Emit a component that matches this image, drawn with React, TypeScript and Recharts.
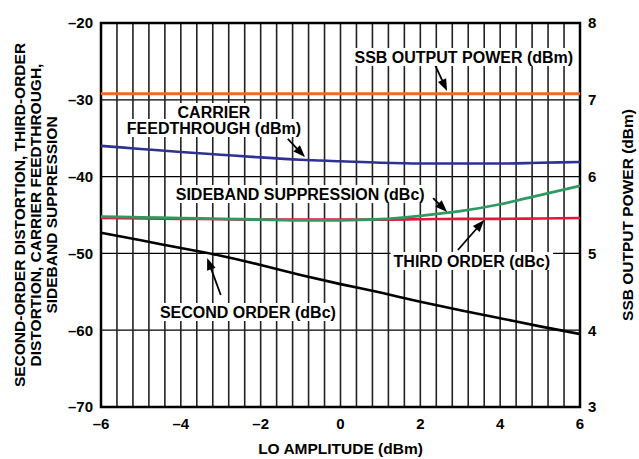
import React from 'react';
import {
  ComposedChart,
  Line,
  XAxis,
  YAxis,
  CartesianGrid,
  ReferenceDot,
  ReferenceLine,
  ReferenceArea,
} from 'recharts';

// ---- data ----
const loAmplitude = [-6, -5, -4, -3, -2, -1, 0, 1, 2, 3, 4, 5, 6];
const ssbOutputPower = [7.08, 7.08, 7.08, 7.08, 7.08, 7.08, 7.08, 7.08, 7.08, 7.08, 7.08, 7.08, 7.08];
const carrierFeedthrough = [-36.0, -36.4, -36.8, -37.15, -37.5, -37.8, -38.0, -38.2, -38.3, -38.3, -38.3, -38.2, -38.1];
const sidebandSuppression = [-45.2, -45.3, -45.4, -45.5, -45.6, -45.7, -45.7, -45.55, -45.1, -44.5, -43.6, -42.4, -41.2];
const thirdOrder = [-45.4, -45.45, -45.5, -45.55, -45.6, -45.6, -45.6, -45.6, -45.55, -45.5, -45.5, -45.45, -45.4];
const secondOrder = [-47.3, -48.3, -49.3, -50.3, -51.5, -52.8, -54.0, -55.1, -56.3, -57.4, -58.45, -59.5, -60.5];

const xTickLabels = [-6, -4, -2, 0, 2, 4, 6];
const leftTicks = [-70, -60, -50, -40, -30, -20];
const rightTicks = [3, 4, 5, 6, 7, 8];

const annotationLines = [
  ['SSB OUTPUT POWER (dBm)'],
  ['CARRIER', 'FEEDTHROUGH (dBm)'],
  ['SIDEBAND SUPPRESSION (dBc)'],
  ['THIRD ORDER (dBc)'],
  ['SECOND ORDER (dBc)'],
];
const annotationX = [3.09, -3.17, -1.01, 3.29, -2.32];
const annotationY = [-24.43, -32.63, -42.27, -50.99, -57.63];
const arrowTailX = [2.37, -1.32, 2.32, 2.94, -3.0];
const arrowTailY = [-25.47, -35.1, -42.79, -49.56, -55.42];
const arrowHeadX = [2.67, -0.89, 2.67, 3.6, -3.34];
const arrowHeadY = [-28.85, -37.45, -44.61, -45.65, -50.6];

// vertical grid every 0.4 dBm
const gridX = Array.from({ length: 31 }, (_, i) => Math.round((-6 + i * 0.4) * 10) / 10);

const data = loAmplitude.map((x, i) => ({
  x,
  ssb: ssbOutputPower[i],
  carrier: carrierFeedthrough[i],
  sideband: sidebandSuppression[i],
  third: thirdOrder[i],
  second: secondOrder[i],
}));

const FONT = '"Liberation Sans", Arial, Helvetica, sans-serif';
const ANN_SIZE = 16;
const TITLE_SIZE = 15.5;
const TICK_SIZE = 15;

let measureCtx: CanvasRenderingContext2D | null = null;
function textWidth(s: string, size: number): number {
  if (!measureCtx) measureCtx = document.createElement('canvas').getContext('2d');
  if (!measureCtx) return s.length * size * 0.66;
  measureCtx.font = `bold ${size}px "Liberation Sans", Arial, sans-serif`;
  return measureCtx.measureText(s).width;
}

const fmt = (v: number) => (v < 0 ? '\u2013' + Math.abs(v) : String(v));

function AnnotationBox(props: any) {
  const { cx, cy, lines } = props;
  const size = ANN_SIZE;
  const lh = 16;
  return (
    <g>
      {lines.map((t: string, i: number) => {
        const w = textWidth(t, size) + 6;
        const y = cy + (i - (lines.length - 1) / 2) * lh;
        return (
          <g key={i}>
            <rect x={cx - w / 2} y={y - 9} width={w} height={18} fill="#fff" />
            <text
              x={cx}
              y={y}
              dy="0.36em"
              textAnchor="middle"
              fontFamily={FONT}
              fontWeight="bold"
              fontSize={size}
              fill="#000"
            >
              {t}
            </text>
          </g>
        );
      })}
    </g>
  );
}

function ArrowShape(props: any) {
  const { x1, y1, x2, y2 } = props;
  const dx = x2 - x1;
  const dy = y2 - y1;
  const len = Math.hypot(dx, dy) || 1;
  const ux = dx / len;
  const uy = dy / len;
  const hl = 12;
  const hw = 4.5;
  const bx = x2 - ux * hl;
  const by = y2 - uy * hl;
  return (
    <g>
      <line x1={x1} y1={y1} x2={bx + ux * 2} y2={by + uy * 2} stroke="#000" strokeWidth={1.8} />
      <polygon
        points={`${x2},${y2} ${bx - uy * hw},${by + ux * hw} ${bx + uy * hw},${by - ux * hw}`}
        fill="#000"
      />
    </g>
  );
}

function LeftTitle(props: any) {
  const vb = props.viewBox || { x: 0, y: 23, width: 101, height: 384 };
  const cy = vb.y + vb.height / 2;
  const lines = ['SECOND-ORDER DISTORTION, THIRD-ORDER', 'DISTORTION, CARRIER FEEDTHROUGH,', 'SIDEBAND SUPPRESSION'];
  const xs = [19, 35, 51];
  return (
    <g>
      {lines.map((t, i) => (
        <text
          key={i}
          x={xs[i]}
          y={cy}
          dy="0.36em"
          transform={`rotate(-90, ${xs[i]}, ${cy})`}
          textAnchor="middle"
          fontFamily={FONT}
          fontWeight="bold"
          fontSize={TITLE_SIZE}
          fill="#000"
        >
          {t}
        </text>
      ))}
    </g>
  );
}

function RightTitle(props: any) {
  const vb = props.viewBox || { x: 580, y: 23, width: 59, height: 384 };
  const cy = vb.y + vb.height / 2;
  const x = 627;
  return (
    <text
      x={x}
      y={cy}
      dy="0.36em"
      transform={`rotate(-90, ${x}, ${cy})`}
      textAnchor="middle"
      fontFamily={FONT}
      fontWeight="bold"
      fontSize={TITLE_SIZE}
      fill="#000"
    >
      SSB OUTPUT POWER (dBm)
    </text>
  );
}

function BottomTitle(props: any) {
  const vb = props.viewBox || { x: 101, y: 407, width: 479, height: 52 };
  const cx = vb.x + vb.width / 2;
  return (
    <text
      x={cx}
      y={448}
      dy="0.36em"
      textAnchor="middle"
      fontFamily={FONT}
      fontWeight="bold"
      fontSize={TITLE_SIZE}
      fill="#000"
    >
      LO AMPLITUDE (dBm)
    </text>
  );
}

const tickStyle = { fontFamily: FONT, fontWeight: 'bold', fontSize: TICK_SIZE, fill: '#000' } as any;

export default function App() {
  return (
    <div style={{ position: 'absolute', left: 0, top: 0, width: 639, height: 459, background: '#fff' }}>
      <ComposedChart width={639} height={459} data={data} margin={{ top: 23, right: 0, bottom: 0, left: 0 }}>
        <XAxis
          dataKey="x"
          type="number"
          domain={[-6, 6]}
          ticks={gridX}
          interval={0}
          height={52}
          axisLine={false}
          tickLine={false}
          tickMargin={5}
          tick={tickStyle}
          tickFormatter={(v: number) => (xTickLabels.includes(v) ? fmt(v) : '')}
          label={{ content: (p: any) => <BottomTitle {...p} /> }}
        />
        <YAxis
          yAxisId="left"
          orientation="left"
          type="number"
          domain={[-70, -20]}
          ticks={leftTicks}
          interval={0}
          width={101}
          axisLine={false}
          tickLine={false}
          tickMargin={2}
          tick={tickStyle}
          tickFormatter={fmt}
          label={{ content: (p: any) => <LeftTitle {...p} /> }}
        />
        <YAxis
          yAxisId="right"
          orientation="right"
          type="number"
          domain={[3, 8]}
          ticks={rightTicks}
          interval={0}
          width={59}
          axisLine={false}
          tickLine={false}
          tickMargin={2}
          tick={tickStyle}
          label={{ content: (p: any) => <RightTitle {...p} /> }}
        />
        <CartesianGrid yAxisId="left" vertical={false} stroke="#000" strokeWidth={1.3} />
        <CartesianGrid yAxisId="left" horizontal={false} stroke="#222" strokeWidth={1.6} />

        {annotationLines.map((lines, i) => (
          <ReferenceDot
            key={'a' + i}
            yAxisId="left"
            x={annotationX[i]}
            y={annotationY[i]}
            ifOverflow="visible"
            shape={(p: any) => <AnnotationBox cx={p.cx} cy={p.cy} lines={lines} />}
          />
        ))}

        <Line yAxisId="left" type="monotone" dataKey="second" stroke="#000" strokeWidth={2.6} dot={false} isAnimationActive={false} />
        <Line yAxisId="left" type="monotone" dataKey="third" stroke="#e3173a" strokeWidth={2.6} dot={false} isAnimationActive={false} />
        <Line yAxisId="left" type="monotone" dataKey="sideband" stroke="#2e9a62" strokeWidth={2.8} dot={false} isAnimationActive={false} />
        <Line yAxisId="left" type="monotone" dataKey="carrier" stroke="#2e3192" strokeWidth={2.6} dot={false} isAnimationActive={false} />
        <Line yAxisId="right" type="monotone" dataKey="ssb" stroke="#f26a21" strokeWidth={3} dot={false} isAnimationActive={false} />

        {arrowTailX.map((_, i) => (
          <ReferenceLine
            key={'r' + i}
            yAxisId="left"
            ifOverflow="visible"
            segment={[
              { x: arrowTailX[i], y: arrowTailY[i] },
              { x: arrowHeadX[i], y: arrowHeadY[i] },
            ]}
            shape={(p: any) => <ArrowShape {...p} />}
          />
        ))}

        <ReferenceArea
          yAxisId="left"
          x1={-6}
          x2={6}
          y1={-70}
          y2={-20}
          fill="none"
          fillOpacity={0}
          stroke="#000"
          strokeWidth={2.5}
          ifOverflow="visible"
        />
      </ComposedChart>
    </div>
  );
}
